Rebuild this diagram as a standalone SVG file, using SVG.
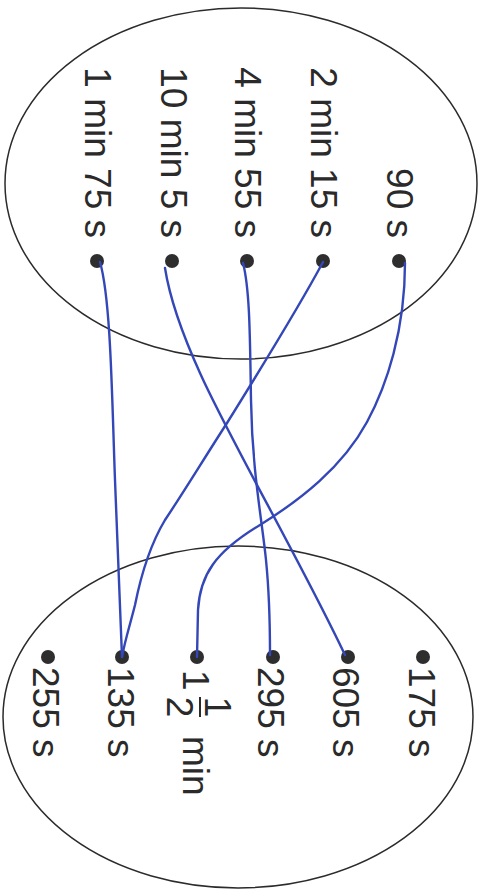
<svg xmlns="http://www.w3.org/2000/svg" width="486" height="890" viewBox="0 0 486 890">
<style>
.bg{fill:#ffffff}
.set{fill:none;stroke:#2b2b2b;stroke-width:1.5}
.lbl{font-family:"Liberation Sans",Arial,sans-serif;font-size:37px;fill:#2a2a2a}
.dot{fill:#2e2e2e}
.link{fill:none;stroke:#3447b8;stroke-width:2.4;stroke-linecap:round;stroke-linejoin:round}
.bar{stroke:#2a2a2a;stroke-width:2}
</style>
<rect class="bg" x="0" y="0" width="486" height="890"/>
<g id="setA"><ellipse class="set" cx="241" cy="183.5" rx="236" ry="175.5"/></g>
<g id="setB"><ellipse class="set" cx="238" cy="717" rx="235" ry="171"/></g>

<g id="a1"><text class="lbl" text-anchor="end" transform="translate(85,238) rotate(90)">1 min 75 s</text><circle class="dot" cx="97" cy="261" r="7"/></g>
<g id="a2"><text class="lbl" text-anchor="end" transform="translate(161,238) rotate(90)">10 min 5 s</text><circle class="dot" cx="172" cy="261" r="7"/></g>
<g id="a3"><text class="lbl" text-anchor="end" transform="translate(235,238) rotate(90)">4 min 55 s</text><circle class="dot" cx="247" cy="261" r="7"/></g>
<g id="a4"><text class="lbl" text-anchor="end" transform="translate(311,238) rotate(90)">2 min 15 s</text><circle class="dot" cx="323" cy="261" r="7"/></g>
<g id="a5"><text class="lbl" text-anchor="end" transform="translate(387,238) rotate(90)">90 s</text><circle class="dot" cx="399" cy="261" r="7"/></g>

<g id="b1"><circle class="dot" cx="48" cy="657" r="7"/><text class="lbl" transform="translate(33,667) rotate(90)">255 s</text></g>
<g id="b2"><circle class="dot" cx="122" cy="657" r="7"/><text class="lbl" transform="translate(108,667) rotate(90)">135 s</text></g>
<g id="b3"><circle class="dot" cx="197" cy="657" r="7"/>
<g transform="translate(183,670) rotate(90)">
<text class="lbl" x="0" y="0">1</text>
<text class="lbl" x="37" y="-22" text-anchor="middle">1</text>
<line class="bar" x1="27" y1="-17" x2="47" y2="-17"/>
<text class="lbl" x="37" y="16" text-anchor="middle">2</text>
<text class="lbl" x="66" y="0">min</text>
</g></g>
<g id="b4"><circle class="dot" cx="273" cy="657" r="7"/><text class="lbl" transform="translate(258,667) rotate(90)">295 s</text></g>
<g id="b5"><circle class="dot" cx="348" cy="657" r="7"/><text class="lbl" transform="translate(333,667) rotate(90)">605 s</text></g>
<g id="b6"><circle class="dot" cx="423" cy="657" r="7"/><text class="lbl" transform="translate(409,667) rotate(90)">175 s</text></g>

<g id="connectors">
<path class="link" d="M100,262 C111,300 112,400 115,480 S120,620 122,657"/>
<path class="link" d="M165,268 C170,300 185,340 200,373 C230,440 300,560 345,655"/>
<path class="link" d="M243,263 C250,290 250,340 251,400 C252,470 262,520 266,560 C270,600 270,630 270,655"/>
<path class="link" d="M323,262 C300,305 260,370 227,423 C200,465 185,490 165,520 C150,545 140,580 135,605 C130,625 125,640 122,657"/>
<path class="link" d="M405,263 C405,330 387,385 367,422 C342,468 300,500 260,525 C215,552 200,575 198,610 L197,657"/>
</g>
</svg>
